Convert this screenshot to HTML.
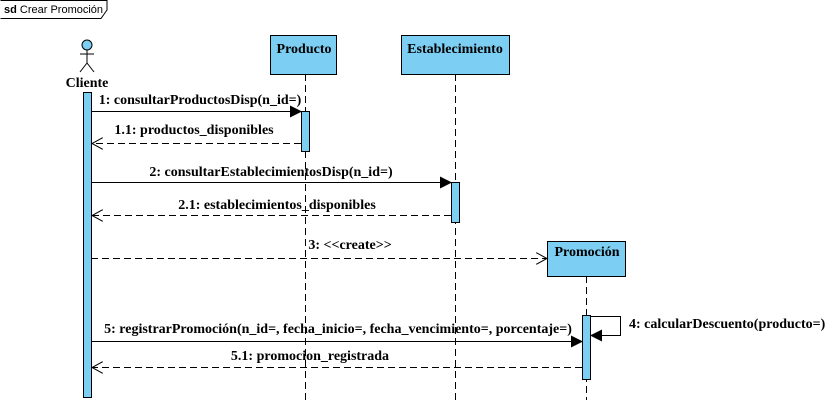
<!DOCTYPE html>
<html><head><style>body{margin:0;background:#fff}svg{display:block}</style></head><body>
<svg width="832" height="410" viewBox="0 0 832 410" xmlns="http://www.w3.org/2000/svg" font-family="'Liberation Serif',serif" font-weight="bold" font-size="14">
<defs>
<marker id="fa" markerWidth="12" markerHeight="12" refX="11" refY="6" orient="auto" markerUnits="userSpaceOnUse"><path d="M0,0 L12,6 L0,12 z" fill="#000"/></marker>
<marker id="oa" markerWidth="12" markerHeight="12" refX="11" refY="6" orient="auto" markerUnits="userSpaceOnUse"><path d="M0,0 L11,6 L0,12" fill="none" stroke="#000"/></marker>
</defs>
<path d="M0.5,0.5 H107 V10 L101,18.5 H0.5" fill="#fff" stroke="#000"/>
<text x="4" y="13" font-family="'Liberation Sans',sans-serif" font-size="11" font-weight="bold">sd <tspan font-weight="normal">Crear Promoción</tspan></text>
<circle cx="87" cy="45" r="5" fill="#7ccef3" stroke="#000"/>
<path d="M87,50 V63 M80,54 H94 M87,63 L80,72 M87,63 L94,72" stroke="#000" fill="none"/>
<text x="87" y="87" text-anchor="middle" font-size="14">Cliente</text>
<g stroke="#000" stroke-dasharray="7,4" fill="none">
<line x1="305.5" y1="74" x2="305.5" y2="400"/>
<line x1="455.5" y1="74" x2="455.5" y2="400"/>
<line x1="586.5" y1="276" x2="586.5" y2="400"/>
</g>
<g fill="#7ccef3" stroke="#000">
<rect x="270.5" y="35.5" width="66" height="39"/>
<rect x="401.5" y="35.5" width="108" height="39"/>
<rect x="547.5" y="241.5" width="78" height="35"/>
<rect x="83.5" y="92.5" width="8" height="305"/>
<rect x="301.5" y="111.5" width="8" height="40"/>
<rect x="451.5" y="182.5" width="8" height="40"/>
<rect x="582.5" y="315.5" width="8" height="64"/>
</g>
<text x="304" y="53" text-anchor="middle">Producto</text>
<text x="455" y="53" text-anchor="middle">Establecimiento</text>
<text x="587" y="256" text-anchor="middle">Promoción</text>
<g stroke="#000" fill="none">
<line x1="91" y1="111.5" x2="301" y2="111.5" marker-end="url(#fa)"/>
<line x1="301" y1="143.5" x2="92" y2="143.5" stroke-dasharray="7,4" marker-end="url(#oa)"/>
<line x1="91" y1="182.5" x2="451" y2="182.5" marker-end="url(#fa)"/>
<line x1="451" y1="215.5" x2="92" y2="215.5" stroke-dasharray="7,4" marker-end="url(#oa)"/>
<line x1="91" y1="258.5" x2="547" y2="258.5" stroke-dasharray="7,4" marker-end="url(#oa)"/>
<line x1="91" y1="341.5" x2="582" y2="341.5" marker-end="url(#fa)"/>
<line x1="582" y1="367.5" x2="92" y2="367.5" stroke-dasharray="7,4" marker-end="url(#oa)"/>
<path d="M590,316.5 H620.5 V335.5 H591" marker-end="url(#fa)"/>
</g>
<g text-anchor="middle">
<text x="200" y="104">1: consultarProductosDisp(n_id=)</text>
<text x="194" y="134">1.1: productos_disponibles</text>
<text x="271" y="176">2: consultarEstablecimientosDisp(n_id=)</text>
<text x="277" y="209">2.1: establecimientos_disponibles</text>
<text x="350" y="249">3: &lt;&lt;create&gt;&gt;</text>
<text x="338" y="333">5: registrarPromoción(n_id=, fecha_inicio=, fecha_vencimiento=, porcentaje=)</text>
<text x="310" y="360">5.1: promocion_registrada</text>
</g>
<text x="629" y="328">4: calcularDescuento(producto=)</text>
</svg>
</body></html>
